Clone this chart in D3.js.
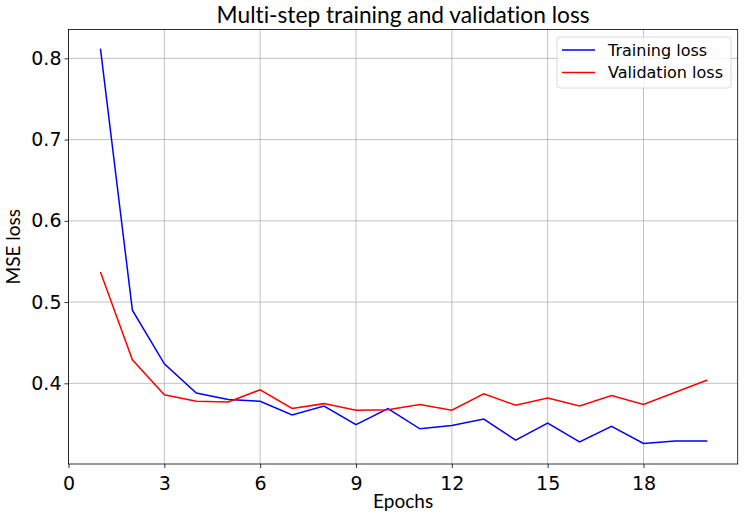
<!DOCTYPE html>
<html>
<head>
<meta charset="utf-8">
<script src="https://cdn.jsdelivr.net/npm/d3@7"></script>
<style>
	body { margin: 0; background: #fff; }
	svg { display: block; }
	.tick text { font-family: "DejaVu Sans", sans-serif; font-size: 19px; fill: #000; }
	.grid line { stroke: #b0b0b0; stroke-width: 0.8; }
	.label { font-family: Lato, "Open Sans", sans-serif; fill: #000; font-variant-ligatures: none; }
</style>
</head>
<body>
<svg id="chart" width="744" height="519"></svg>
<script>
// values
const epochs = [1, 2, 3, 4, 5, 6, 7, 8, 9, 10, 11, 12, 13, 14, 15, 16, 17, 18, 19, 20];
const training_loss = [0.812, 0.490, 0.424, 0.388, 0.380, 0.378, 0.361, 0.372, 0.349, 0.369,
	0.344, 0.348, 0.356, 0.330, 0.351, 0.328, 0.347, 0.326, 0.329, 0.329];
const validation_loss = [0.537, 0.429, 0.386, 0.378, 0.377, 0.392, 0.369, 0.375, 0.367, 0.3675,
	0.374, 0.367, 0.387, 0.373, 0.382, 0.372, 0.385, 0.374, 0.389, 0.404];
const x_ticks = [0, 3, 6, 9, 12, 15, 18];
const y_ticks = [0.4, 0.5, 0.6, 0.7, 0.8];
const series_names = ["Training loss", "Validation loss"];
const series_colors = ["blue", "red"];

const svg = d3.select("#chart");
const plot_left = 68.5, plot_right = 737.7, plot_top = 29.5, plot_bottom = 464;

const x = d3.scaleLinear().domain([0, 20.95]).range([plot_left, plot_right]);
const y = d3.scaleLinear().domain([0.3007, 0.8355]).range([plot_bottom, plot_top]);

// grid
const grid = svg.append("g").attr("class", "grid");
grid.selectAll(".gx").data(x_ticks).join("line")
	.attr("x1", d => x(d)).attr("x2", d => x(d))
	.attr("y1", plot_top).attr("y2", plot_bottom);
grid.selectAll(".gy").data(y_ticks).join("line")
	.attr("x1", plot_left).attr("x2", plot_right)
	.attr("y1", d => y(d)).attr("y2", d => y(d));

// axes
const x_axis = d3.axisBottom(x).tickValues(x_ticks).tickSize(4).tickPadding(4).tickFormat(d3.format("d"));
const y_axis = d3.axisLeft(y).tickValues(y_ticks).tickSize(4).tickPadding(3).tickFormat(d3.format(".1f"));

const gx = svg.append("g").attr("transform", `translate(0,${plot_bottom})`).call(x_axis);
const gy = svg.append("g").attr("transform", `translate(${plot_left},0)`).call(y_axis);
[gx, gy].forEach(g => {
	g.select(".domain").remove();
	g.selectAll(".tick line").attr("stroke", "#000").attr("stroke-width", 0.8);
});
gx.selectAll(".tick text").attr("dy", "0.95em");

// frame
svg.append("rect")
	.attr("x", plot_left).attr("y", plot_top)
	.attr("width", plot_right - plot_left).attr("height", plot_bottom - plot_top)
	.attr("fill", "none").attr("stroke", "#000").attr("stroke-width", 0.8);

// lines
const line_generator = d3.line().x((d, i) => x(epochs[i])).y(d => y(d));
[training_loss, validation_loss].forEach((vals, k) => {
	svg.append("path")
		.attr("d", line_generator(vals))
		.attr("fill", "none")
		.attr("stroke", series_colors[k])
		.attr("stroke-width", 1.5);
});

// title and labels
svg.append("text").attr("class", "label")
	.attr("x", (plot_left + plot_right) / 2).attr("y", 23)
	.attr("text-anchor", "middle").attr("font-size", 23)
	.attr("textLength", 373).attr("lengthAdjust", "spacingAndGlyphs")
	.text("Multi-step training and validation loss");
svg.append("text").attr("class", "label")
	.attr("x", (plot_left + plot_right) / 2).attr("y", 508)
	.attr("text-anchor", "middle").attr("font-size", 19)
	.text("Epochs");
svg.append("text").attr("class", "label")
	.attr("transform", `translate(20,${(plot_top + plot_bottom) / 2}) rotate(-90)`)
	.attr("text-anchor", "middle").attr("font-size", 19)
	.text("MSE loss");

// legend
const legend = svg.append("g");
legend.append("rect")
	.attr("x", 557).attr("y", 37).attr("width", 174).attr("height", 51)
	.attr("rx", 3).attr("fill", "#fff").attr("fill-opacity", 0.8)
	.attr("stroke", "#d0d0d0").attr("stroke-width", 0.8);
series_names.forEach((name, k) => {
	const ly = 50 + k * 22.5;
	legend.append("line")
		.attr("x1", 562).attr("x2", 595).attr("y1", ly).attr("y2", ly)
		.attr("stroke", series_colors[k]).attr("stroke-width", 1.5);
	legend.append("text")
		.attr("x", 608).attr("y", ly).attr("dy", "0.35em")
		.attr("font-family", "DejaVu Sans, sans-serif").attr("font-size", 16)
		.text(name);
});
</script>
</body>
</html>
